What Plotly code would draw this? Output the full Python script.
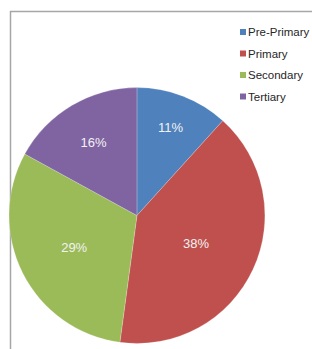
import plotly.graph_objects as go

categories = ["Pre-Primary", "Primary", "Secondary", "Tertiary"]
values = [11, 38, 29, 16]
colors = ["#4F81BD", "#C0504D", "#9BBB59", "#8064A2"]

W, H = 312, 349
FONT = "Liberation Sans Narrow, Arial Narrow, Liberation Sans, Arial, sans-serif"

fig = go.Figure()
fig.add_trace(go.Pie(
    labels=categories,
    values=values,
    marker=dict(colors=colors, line=dict(color="rgba(255,255,255,0.4)", width=0.5)),
    sort=False,
    direction="clockwise",
    rotation=0,
    texttemplate="%{value}%",
    textposition="inside",
    insidetextorientation="horizontal",
    textfont=dict(color="#F2F2F2", size=13, family=FONT),
    hoverinfo="label+value",
    showlegend=False,
    domain=dict(x=[0.029, 0.849], y=[0.015, 0.75]),
))

# legend drawn as small squares + text labels
shapes = [dict(
    type="rect", xref="paper", yref="paper",
    x0=10.5 / W, x1=1.1, y0=-0.1, y1=1 - 11.5 / H,
    line=dict(color="#A6A6A6", width=1.5),
    layer="below",
)]
annotations = []
for i, (name, col) in enumerate(zip(categories, colors)):
    yc = 32 + 21.5 * i
    shapes.append(dict(
        type="rect", xref="paper", yref="paper",
        x0=240 / W, x1=246 / W, y0=1 - (yc + 3) / H, y1=1 - (yc - 3) / H,
        fillcolor=col, line=dict(width=0),
    ))
    annotations.append(dict(
        text=name, xref="paper", yref="paper",
        x=246 / W, y=1 - yc / H, xanchor="left", yanchor="middle",
        showarrow=False,
        font=dict(family=FONT, size=11.5, color="#262626"),
    ))

fig.update_layout(
    width=W, height=H,
    margin=dict(l=0, r=0, t=0, b=0, autoexpand=False),
    paper_bgcolor="white",
    plot_bgcolor="white",
    showlegend=False,
    shapes=shapes,
    annotations=annotations,
)

fig.write_html("out.html", config={"displayModeBar": False},
               post_script="document.body.style.margin='0';")
